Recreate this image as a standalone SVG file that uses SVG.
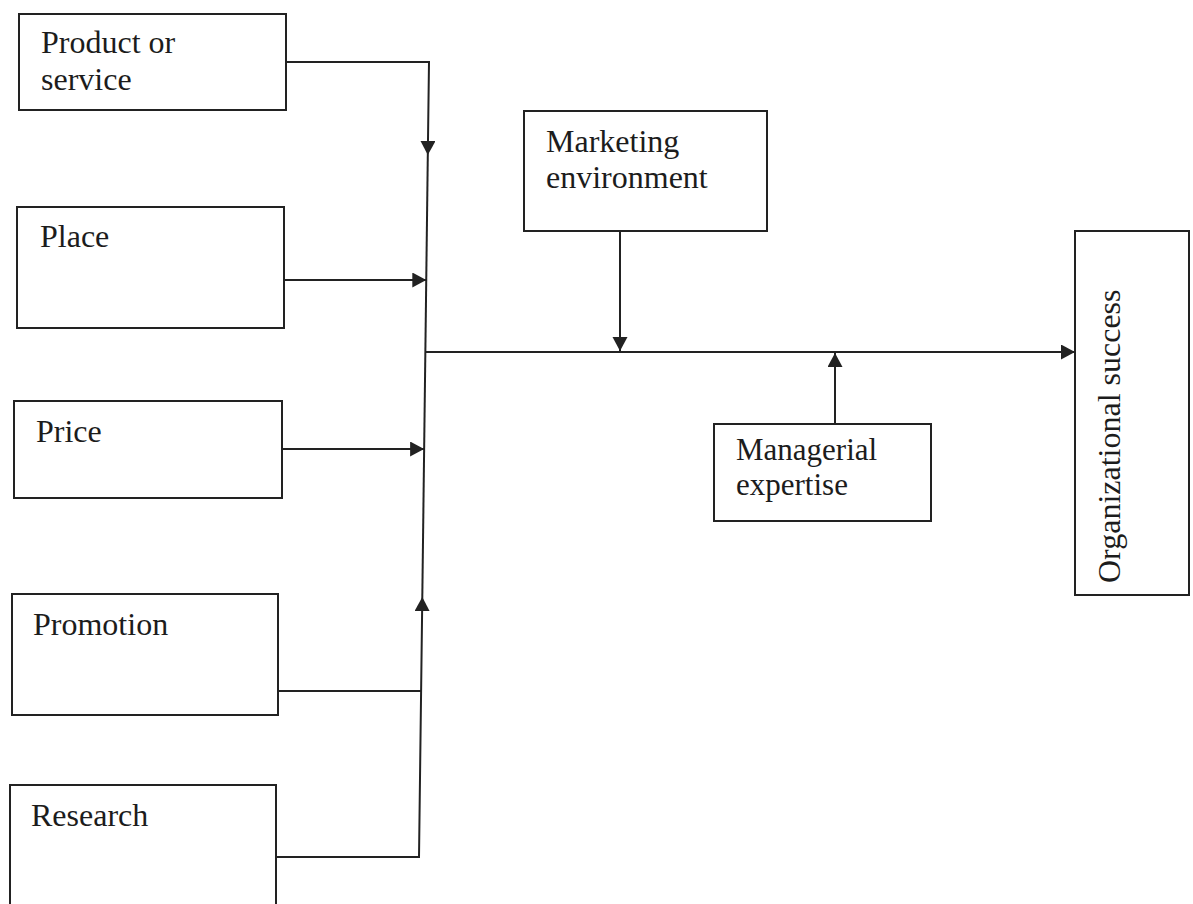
<svg xmlns="http://www.w3.org/2000/svg" width="1193" height="904" viewBox="0 0 1193 904">
<style>
.box{fill:#fff;stroke:#222;stroke-width:2}
.lbl{font-family:"Liberation Serif","Times New Roman",serif;font-size:32px;fill:#1c1c1c}
.sm{font-size:31px}
.con{fill:none;stroke:#222;stroke-width:2}
</style>
<defs>
<marker id="arr" markerUnits="userSpaceOnUse" markerWidth="16" markerHeight="16" refX="14" refY="7.5" orient="auto">
<path d="M0,0 L14,7.5 L0,15 z" fill="#222"/>
</marker>
</defs>
<rect width="1193" height="904" fill="#fff"/>
<g id="product">
<rect class="box" x="19" y="14" width="267" height="96"/>
<text class="lbl" x="41" y="53">Product or</text>
<text class="lbl" x="41" y="90">service</text>
</g>
<g id="place">
<rect class="box" x="17" y="207" width="267" height="121"/>
<text class="lbl" x="40" y="247">Place</text>
</g>
<g id="price">
<rect class="box" x="14" y="401" width="268" height="97"/>
<text class="lbl" x="36" y="442">Price</text>
</g>
<g id="promotion">
<rect class="box" x="12" y="594" width="266" height="121"/>
<text class="lbl" x="33" y="635">Promotion</text>
</g>
<g id="research">
<rect class="box" x="10" y="785" width="266" height="140"/>
<text class="lbl" x="31" y="826">Research</text>
</g>
<g id="marketing">
<rect class="box" x="524" y="111" width="243" height="120"/>
<text class="lbl" x="546" y="152">Marketing</text>
<text class="lbl" x="546" y="188">environment</text>
</g>
<g id="managerial">
<rect class="box" x="714" y="424" width="217" height="97"/>
<text class="lbl sm" x="736" y="460">Managerial</text>
<text class="lbl sm" x="736" y="495">expertise</text>
</g>
<g id="success">
<rect class="box" x="1075" y="231" width="114" height="364"/>
<text class="lbl" transform="translate(1120,583) rotate(-90)">Organizational success</text>
</g>
<g id="connectors">
<path class="con" d="M286,62 H429 L427.8,155" marker-end="url(#arr)"/>
<path class="con" d="M427.8,155 L422.3,597"/>
<path class="con" d="M284,280 H426.3" marker-end="url(#arr)"/>
<path class="con" d="M282,449 H424.1" marker-end="url(#arr)"/>
<path class="con" d="M278,691 H421.1"/>
<path class="con" d="M276,857 H419 L422.3,597" marker-end="url(#arr)"/>
<path class="con" d="M425.4,352 H1075" marker-end="url(#arr)"/>
<path class="con" d="M620,231 V351" marker-end="url(#arr)"/>
<path class="con" d="M835,424 V353" marker-end="url(#arr)"/>
</g>
</svg>
